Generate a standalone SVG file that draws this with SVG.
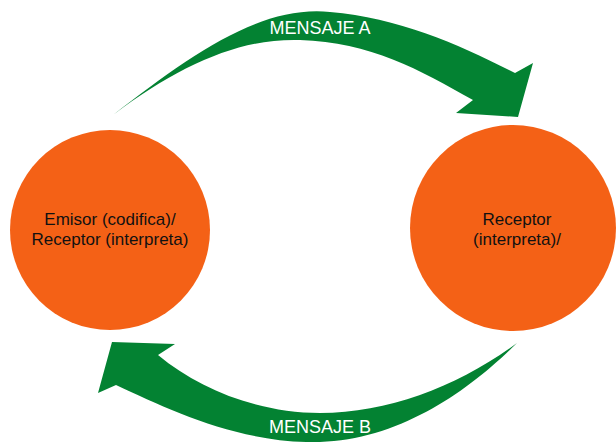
<svg xmlns="http://www.w3.org/2000/svg" width="616" height="442" viewBox="0 0 616 442">
  <style>
    .node { fill: #F46116; }
    .arrow { fill: #038232; }
    .label { font-family: "Liberation Sans", Arial, sans-serif; font-size: 17px; fill: #111111; text-anchor: middle; }
    .msg { font-family: "Liberation Sans", Arial, sans-serif; font-size: 18px; fill: #ffffff; text-anchor: middle; }
  </style>
  <rect width="616" height="442" fill="#ffffff"/>

  <g id="emisor">
    <circle class="node" cx="110" cy="230" r="100"/>
    <text class="label" x="110" y="225">Emisor (codifica)/</text>
    <text class="label" x="110" y="244.5">Receptor (interpreta)</text>
  </g>

  <g id="receptor">
    <circle class="node" cx="513" cy="228" r="103"/>
    <text class="label" x="517" y="225">Receptor</text>
    <text class="label" x="517" y="244.5">(interpreta)/</text>
  </g>

  <g id="connectors">
    <g id="mensaje-a">
      <path class="arrow" d="M113,115 C190,55 260,5 330,12 C400,18 460,45 515,73 L533,63 L518,117 L456,113 L473,100 C420,70 370,42 300,40 C240,38 180,65 113,115 Z"/>
      <text class="msg" x="320" y="34">MENSAJE A</text>
    </g>
    <g id="mensaje-b">
      <path class="arrow" d="M517,343 C470,390 400,440 320,442 C240,444 170,410 116,385 L98,393 L112,342 L175,344 L158,355 C200,390 260,413 320,413 C390,413 460,385 517,343 Z"/>
      <text class="msg" x="320" y="433">MENSAJE B</text>
    </g>
  </g>
</svg>
